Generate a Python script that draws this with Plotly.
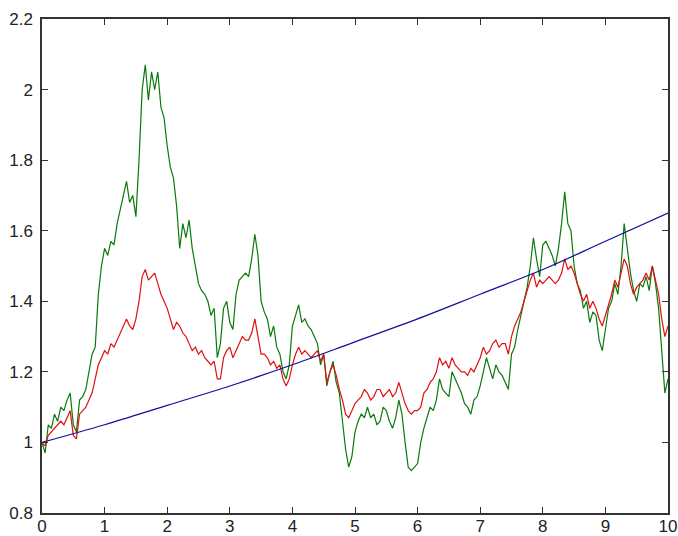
import plotly.graph_objects as go

# Blue curve (expected value), read at integer times
blue_t = [0, 1, 2, 3, 4, 5, 6, 7, 8, 9, 10]
blue_y = [1.00, 1.05, 1.105, 1.16, 1.22, 1.285, 1.35, 1.42, 1.49, 1.57, 1.65]

green_t = [0, 0.05, 0.1, 0.15, 0.2, 0.25, 0.3, 0.35, 0.4, 0.45, 0.5, 0.55, 0.6, 0.65, 0.7, 0.75, 0.8, 0.85, 0.9, 0.95,
           1.0, 1.05, 1.1, 1.15, 1.2, 1.25, 1.3, 1.35, 1.4, 1.45, 1.5, 1.55, 1.6, 1.65, 1.7, 1.75, 1.8, 1.85, 1.9, 1.95,
           2.0, 2.05, 2.1, 2.15, 2.2, 2.25, 2.3, 2.35, 2.4, 2.45, 2.5, 2.55, 2.6, 2.65, 2.7, 2.75, 2.8, 2.85, 2.9, 2.95,
           3.0, 3.05, 3.1, 3.15, 3.2, 3.25, 3.3, 3.35, 3.4, 3.45, 3.5, 3.55, 3.6, 3.65, 3.7, 3.75, 3.8, 3.85, 3.9, 3.95,
           4.0, 4.05, 4.1, 4.15, 4.2, 4.25, 4.3, 4.35, 4.4, 4.45, 4.5, 4.55, 4.6, 4.65, 4.7, 4.75, 4.8, 4.85, 4.9, 4.95,
           5.0, 5.05, 5.1, 5.15, 5.2, 5.25, 5.3, 5.35, 5.4, 5.45, 5.5, 5.55, 5.6, 5.65, 5.7, 5.75, 5.8, 5.85, 5.9, 5.95,
           6.0, 6.05, 6.1, 6.15, 6.2, 6.25, 6.3, 6.35, 6.4, 6.45, 6.5, 6.55, 6.6, 6.65, 6.7, 6.75, 6.8, 6.85, 6.9, 6.95,
           7.0, 7.05, 7.1, 7.15, 7.2, 7.25, 7.3, 7.35, 7.4, 7.45, 7.5, 7.55, 7.6, 7.65, 7.7, 7.75, 7.8, 7.85, 7.9, 7.95,
           8.0, 8.05, 8.1, 8.15, 8.2, 8.25, 8.3, 8.35, 8.4, 8.45, 8.5, 8.55, 8.6, 8.65, 8.7, 8.75, 8.8, 8.85, 8.9, 8.95,
           9.0, 9.05, 9.1, 9.15, 9.2, 9.25, 9.3, 9.35, 9.4, 9.45, 9.5, 9.55, 9.6, 9.65, 9.7, 9.75, 9.8, 9.85, 9.9, 9.95, 10.0]
green_y = [1.00, 0.97, 1.05, 1.04, 1.08, 1.06, 1.10, 1.09, 1.12, 1.14, 1.05, 1.03, 1.12, 1.13, 1.15, 1.20, 1.25, 1.27, 1.42, 1.50,
           1.55, 1.53, 1.57, 1.56, 1.62, 1.66, 1.70, 1.74, 1.68, 1.70, 1.64, 1.80, 2.00, 2.07, 1.97, 2.05, 2.00, 2.05, 1.95, 1.92,
           1.84, 1.78, 1.75, 1.67, 1.55, 1.62, 1.58, 1.63, 1.55, 1.50, 1.45, 1.43, 1.42, 1.40, 1.36, 1.38, 1.24, 1.28, 1.38, 1.40,
           1.34, 1.32, 1.42, 1.46, 1.47, 1.48, 1.47, 1.52, 1.59, 1.53, 1.40, 1.37, 1.35, 1.30, 1.33, 1.27, 1.25, 1.20, 1.18, 1.22,
           1.33, 1.36, 1.39, 1.34, 1.35, 1.33, 1.32, 1.30, 1.28, 1.22, 1.25, 1.16, 1.20, 1.23, 1.17, 1.14, 1.05, 0.98, 0.93, 0.96,
           1.03, 1.06, 1.08, 1.07, 1.10, 1.07, 1.08, 1.05, 1.06, 1.10, 1.09, 1.06, 1.04, 1.07, 1.12, 1.08, 1.00, 0.93, 0.92, 0.93,
           0.94, 1.00, 1.04, 1.07, 1.10, 1.09, 1.12, 1.18, 1.15, 1.14, 1.13, 1.20, 1.18, 1.16, 1.14, 1.11, 1.10, 1.08, 1.12, 1.13,
           1.16, 1.20, 1.24, 1.21, 1.18, 1.22, 1.20, 1.19, 1.17, 1.15, 1.25, 1.27, 1.32, 1.36, 1.40, 1.44, 1.50, 1.58, 1.52, 1.47,
           1.56, 1.57, 1.55, 1.53, 1.50, 1.55, 1.62, 1.71, 1.62, 1.60, 1.50, 1.45, 1.43, 1.38, 1.40, 1.34, 1.37, 1.36, 1.29, 1.26,
           1.32, 1.38, 1.40, 1.45, 1.42, 1.50, 1.62, 1.55, 1.48, 1.43, 1.40, 1.45, 1.44, 1.47, 1.43, 1.50, 1.45, 1.38, 1.25, 1.14, 1.18]

red_y = [1.00, 0.99, 1.02, 1.03, 1.04, 1.05, 1.06, 1.05, 1.07, 1.09, 1.02, 1.01, 1.08, 1.09, 1.10, 1.12, 1.14, 1.18, 1.22, 1.24,
         1.26, 1.25, 1.28, 1.27, 1.29, 1.31, 1.33, 1.35, 1.33, 1.32, 1.35, 1.40, 1.47, 1.49, 1.46, 1.47, 1.48, 1.45, 1.42, 1.40,
         1.38, 1.35, 1.32, 1.34, 1.33, 1.31, 1.30, 1.28, 1.26, 1.27, 1.25, 1.26, 1.24, 1.23, 1.22, 1.23, 1.18, 1.18, 1.24, 1.26,
         1.27, 1.24, 1.26, 1.28, 1.30, 1.29, 1.29, 1.31, 1.35, 1.30, 1.25, 1.25, 1.24, 1.22, 1.23, 1.21, 1.22, 1.18, 1.16, 1.18,
         1.22, 1.25, 1.27, 1.25, 1.26, 1.25, 1.24, 1.25, 1.26, 1.23, 1.25, 1.17, 1.20, 1.22, 1.19, 1.15, 1.12, 1.08, 1.07, 1.09,
         1.11, 1.12, 1.13, 1.15, 1.14, 1.12, 1.13, 1.15, 1.15, 1.13, 1.14, 1.15, 1.13, 1.14, 1.17, 1.14, 1.11, 1.09, 1.08, 1.09,
         1.09, 1.10, 1.14, 1.15, 1.17, 1.18, 1.20, 1.24, 1.22, 1.23, 1.21, 1.24, 1.22, 1.21, 1.20, 1.20, 1.19, 1.21, 1.20, 1.22,
         1.24, 1.27, 1.25, 1.26, 1.28, 1.29, 1.27, 1.28, 1.28, 1.25, 1.30, 1.33, 1.35, 1.37, 1.40, 1.43, 1.46, 1.48, 1.44, 1.46,
         1.45, 1.46, 1.47, 1.46, 1.45, 1.46, 1.48, 1.52, 1.49, 1.50, 1.48, 1.45, 1.42, 1.40, 1.42, 1.38, 1.40, 1.38, 1.35, 1.33,
         1.36, 1.39, 1.42, 1.46, 1.44, 1.48, 1.52, 1.50, 1.45, 1.42, 1.44, 1.45, 1.46, 1.48, 1.46, 1.50, 1.46, 1.42, 1.35, 1.30, 1.33]
red_t = green_t

x_ticks = [0, 1, 2, 3, 4, 5, 6, 7, 8, 9, 10]
y_ticks = [0.8, 1.0, 1.2, 1.4, 1.6, 1.8, 2.0, 2.2]
y_tick_text = ["0.8", "1", "1.2", "1.4", "1.6", "1.8", "2", "2.2"]

fig = go.Figure()
fig.add_trace(go.Scatter(x=green_t, y=green_y, mode="lines", line=dict(color="#0a7a0a", width=1.2)))
fig.add_trace(go.Scatter(x=red_t, y=red_y, mode="lines", line=dict(color="#e01010", width=1.2)))
fig.add_trace(go.Scatter(x=blue_t, y=blue_y, mode="lines", line=dict(color="#10109a", width=1.2, shape="spline")))

axis_common = dict(showgrid=False, zeroline=False, showline=True, linecolor="#333333", linewidth=1.5,
                   mirror="ticks", ticks="inside", ticklen=6, tickcolor="#333333", automargin=False,
                   ticklabeloverflow="allow",
                   tickfont=dict(family="Liberation Sans, Arial, sans-serif", size=17, color="#222222"))

fig.update_layout(
    width=678, height=536,
    margin=dict(l=42, r=10, t=19, b=23, autoexpand=False),
    paper_bgcolor="white", plot_bgcolor="white",
    showlegend=False,
    hovermode=False,
    xaxis=dict(range=[0, 10], tickvals=x_ticks, ticktext=[str(v) for v in x_ticks],
               ticklabelstandoff=-3, **axis_common),
    yaxis=dict(range=[0.8, 2.2], tickvals=y_ticks, ticktext=y_tick_text, ticklabelstandoff=4, **axis_common),
)

fig.write_html("out.html", config={"displayModeBar": False},
               post_script="document.body.style.margin='0';document.body.style.overflow='hidden';")
